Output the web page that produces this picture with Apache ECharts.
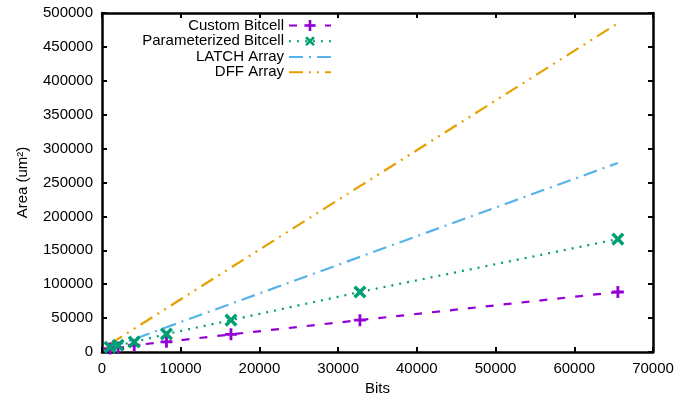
<!DOCTYPE html>
<html><head><meta charset="utf-8">
<script src="https://cdn.jsdelivr.net/npm/echarts@6/dist/echarts.min.js"></script>
<style>html,body{margin:0;padding:0;background:#fff}#c{width:691px;height:399px}</style>
</head><body><div id="c"></div>
<script>
const bits = [1024, 2048, 4096, 8192, 16384, 32768, 65536];
const customBitcell = [5000, 6500, 10000, 15000, 26000, 47000, 88500];
const paramBitcell = [7000, 10000, 14700, 26500, 47000, 88500, 166500];
const latchArray = [6200, 10500, 19200, 36500, 71100, 140300, 278800];
const dffArray = [11900, 19400, 34400, 64400, 124500, 244600, 484800];
const seriesNames = ['Custom Bitcell', 'Parameterized Bitcell', 'LATCH Array', 'DFF Array'];

const pair = (ys) => bits.map((b, i) => [b, ys[i]]);
const plusPath = 'path://M-1.4,-6 H1.4 V-1.4 H6 V1.4 H1.4 V6 H-1.4 V1.4 H-6 V-1.4 H-1.4 Z';
const font = 'Liberation Sans, Arial, sans-serif';
const fs = 15;

const chart = echarts.init(document.getElementById('c'));
const axisCommon = {
  axisLine: { show: true, onZero: false, lineStyle: { color: '#000', width: 2.5 } },
  axisTick: { show: true, inside: true, length: 5, lineStyle: { color: '#000', width: 2 } },
  splitLine: { show: false },
  axisLabel: { color: '#000', fontSize: fs, fontFamily: font, formatter: (v) => String(v) }
};
chart.setOption({
  animation: false,
  grid: { left: 102, right: 38, top: 13, bottom: 47, containLabel: false, outerBoundsMode: 'none' },
  xAxis: [
    Object.assign({}, axisCommon, { type: 'value', min: 0, max: 70000, interval: 10000, position: 'bottom',
      name: 'Bits', nameLocation: 'middle', nameGap: 28,
      nameTextStyle: { color: '#000', fontSize: fs, fontFamily: font },
      axisLabel: Object.assign({}, axisCommon.axisLabel, { margin: 9 }) }),
    Object.assign({}, axisCommon, { type: 'value', min: 0, max: 70000, interval: 10000, position: 'top',
      axisLabel: { show: false } })
  ],
  yAxis: [
    Object.assign({}, axisCommon, { type: 'value', min: 0, max: 500000, interval: 50000, position: 'left',
      name: 'Area (um²)', nameLocation: 'middle', nameGap: 72,
      nameTextStyle: { color: '#000', fontSize: fs, fontFamily: font },
      axisLabel: Object.assign({}, axisCommon.axisLabel, { margin: 9 }) }),
    Object.assign({}, axisCommon, { type: 'value', min: 0, max: 500000, interval: 50000, position: 'right',
      axisLabel: { show: false } })
  ],
  legend: {
    orient: 'vertical', right: 359, top: 18, align: 'right', padding: 0,
    itemWidth: 42, itemHeight: 14, itemGap: 0.3,
    textStyle: { color: '#000', fontSize: fs, fontFamily: font, lineHeight: 14 },
    data: [
      { name: seriesNames[0] },
      { name: seriesNames[1] },
      { name: seriesNames[2], itemStyle: { opacity: 0 } },
      { name: seriesNames[3], itemStyle: { opacity: 0 } }
    ]
  },
  series: [
    { name: seriesNames[0], type: 'line', data: pair(customBitcell),
      symbol: plusPath, symbolSize: 12, showSymbol: true,
      itemStyle: { color: '#9400d3' },
      lineStyle: { color: '#9400d3', width: 2.2, type: [8, 10] } },
    { name: seriesNames[1], type: 'line', data: pair(paramBitcell),
      symbol: plusPath, symbolRotate: 45, symbolSize: 15, showSymbol: true,
      itemStyle: { color: '#009e73' },
      lineStyle: { color: '#009e73', width: 2.2, type: [2, 6] } },
    { name: seriesNames[2], type: 'line', data: pair(latchArray),
      showSymbol: false, symbol: 'circle',
      itemStyle: { color: '#56b4e9' },
      lineStyle: { color: '#56b4e9', width: 2.2, type: [14, 6, 2, 6] } },
    { name: seriesNames[3], type: 'line', data: pair(dffArray),
      showSymbol: false, symbol: 'circle',
      itemStyle: { color: '#e69f00' },
      lineStyle: { color: '#e69f00', width: 2.2, type: [14, 6, 2, 6, 2, 6] } }
  ]
});
</script></body></html>
